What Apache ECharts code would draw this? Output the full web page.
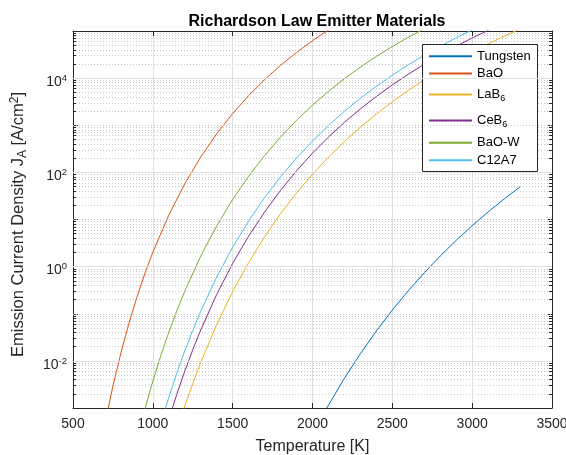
<!DOCTYPE html>
<html>
<head>
<meta charset="utf-8">
<script src="https://cdn.jsdelivr.net/npm/echarts@6/dist/echarts.min.js"></script>
<style>
  html, body { margin: 0; padding: 0; background: #fff; }
  #chart { width: 566px; height: 455px; }
</style>
</head>
<body>
<div id="chart"></div>
<script>
// values (temperature in K, current density in A/cm^2)
const tungstenT = [2000, 2100, 2200, 2300, 2400, 2500, 2600, 2700, 2800, 2900, 3000, 3100, 3200, 3300]
const tungstenJ = [2.72e-4, 1.15e-3, 4.27e-3, 1.42e-2, 4.30e-2, 0.1195, 0.308, 0.741, 1.68, 3.61, 7.39, 14.5, 27.2, 49.4]

const baoT = [700, 750, 800, 850, 900, 950, 1000, 1100, 1200, 1300, 1400, 1500, 1600, 1700, 1800, 1900, 2000, 2100, 2200]
const baoJ = [4.61e-4, 2.91e-3, 1.47e-2, 6.20e-2, 0.224, 0.710, 2.02, 12.4, 57.4, 212, 659, 1774, 4254, 9275, 18660, 35100, 62280, 105100, 170000]

const lab6T = [1100, 1150, 1200, 1250, 1300, 1400, 1500, 1600, 1700, 1800, 1900, 2000, 2100, 2200, 2300, 2400, 2500, 2600, 2700, 2800, 2900, 3000, 3100, 3200, 3300]
const lab6J = [8.76e-5, 3.25e-4, 1.09e-3, 3.31e-3, 9.28e-3, 5.90e-2, 0.295, 1.22, 4.30, 13.3, 36.5, 91.3, 210, 451, 909, 1734, 3151, 5488, 9196, 14890, 23390, 35710, 53200, 77450, 110400]

const ceb6T = [1050, 1100, 1150, 1200, 1250, 1300, 1400, 1500, 1600, 1700, 1800, 1900, 2000, 2100, 2200, 2300, 2400, 2500, 2600, 2700, 2800, 2900, 3000, 3100, 3200]
const ceb6J = [1.49e-4, 5.70e-4, 1.95e-3, 6.05e-3, 1.72e-2, 4.53e-2, 0.257, 1.17, 4.42, 14.4, 41.6, 108, 256, 561, 1151, 2226, 4090, 7184, 12120, 19720, 31080, 47590, 71000, 103400, 147400]

const baowT = [900, 950, 1000, 1050, 1100, 1150, 1200, 1300, 1400, 1500, 1600, 1700, 1800, 1900, 2000, 2100, 2200, 2300, 2400, 2500, 2600, 2700, 2800]
const baowJ = [2.04e-4, 9.37e-4, 3.71e-3, 1.29e-2, 4.05e-2, 0.115, 0.301, 1.67, 7.32, 26.6, 82.9, 228, 564, 1274, 2669, 5235, 9700, 17110, 28870, 46900, 73600, 112000, 166000]

const c12a7T = [1000, 1050, 1100, 1150, 1200, 1250, 1300, 1400, 1500, 1600, 1700, 1800, 1900, 2000, 2100, 2200, 2300, 2400, 2500, 2600, 2700, 2800, 2900, 3000, 3100]
const c12a7J = [1.12e-4, 4.62e-4, 1.68e-3, 5.49e-3, 1.63e-2, 4.46e-2, 0.113, 0.601, 2.58, 9.30, 29.1, 80.6, 202, 464, 989, 1976, 3735, 6716, 11560, 19150, 30640, 47540, 71730, 105500, 151800]

const seriesNames = ['Tungsten', 'BaO', 'LaB6', 'CeB6', 'BaO-W', 'C12A7']
const seriesColors = ['#0072BD', '#D95319', '#EDB120', '#7E2F8E', '#77AC30', '#4DBEEE']

// y tick labels (exponents) and grid values
const yLabelExps = [-2, 0, 2, 4]
const yMajorGrid = [1e-2, 1, 1e2, 1e4]
const yOddDecades = [1e-1, 1e1, 1e3]

// legend rows (centre of each entry, px from top) - MATLAB spaces them unevenly
const legendRowY = [56.7, 74, 95, 121, 143.3, 160.7]

const font = '"Liberation Sans", Arial, Helvetica, sans-serif'
const ink = '#262626'

const chart = echarts.init(document.getElementById('chart'))

const pairs = (t, j) => t.map((v, i) => [v, j[i]])
const allData = [
  pairs(tungstenT, tungstenJ),
  pairs(baoT, baoJ),
  pairs(lab6T, lab6J),
  pairs(ceb6T, ceb6J),
  pairs(baowT, baowJ),
  pairs(c12a7T, c12a7J)
]

// subscript 6 in the boride names
const legendLabel = name => {
  if (name === 'LaB6') return 'LaB{sub|6}'
  if (name === 'CeB6') return 'CeB{sub|6}'
  return name
}

const gridSeries = {
  name: '',
  type: 'line',
  data: [],
  z: 1,
  markLine: {
    silent: true,
    symbol: 'none',
    animation: false,
    label: { show: false },
    data: [
      ...yMajorGrid.map(v => ({ yAxis: v, lineStyle: { color: '#dfdfdf', type: 'solid', width: 1 } })),
      ...yOddDecades.map(v => ({ yAxis: v, lineStyle: { color: '#c8c8c8', type: [1, 2], width: 1 } }))
    ]
  }
}

const legends = seriesNames.map((name, i) => ({
  data: [name],
  left: 428,
  top: legendRowY[i] - 7,
  padding: 0,
  itemWidth: 43,
  itemHeight: 14,
  itemStyle: { opacity: 0 },
  formatter: legendLabel,
  textStyle: {
    fontSize: 13,
    color: '#000',
    fontFamily: font,
    rich: {
      sub: { fontSize: 9, padding: [9, 0, 0, 0], fontFamily: font, color: '#000' }
    }
  }
}))

const option = {
  animation: false,
  textStyle: { fontFamily: font },
  title: {
    text: 'Richardson Law Emitter Materials',
    left: 312,
    top: 9,
    textAlign: 'center',
    textStyle: { fontSize: 16, fontWeight: 'bold', color: '#000', fontFamily: font }
  },
  grid: { left: 73, right: 14, top: 31, bottom: 47, outerBoundsMode: 'none' },
  legend: legends,
  graphic: [{
    type: 'rect',
    z: 3,
    shape: { x: 422.5, y: 44.5, width: 115, height: 127 },
    style: { fill: '#fff', stroke: ink, lineWidth: 1 }
  }],
  xAxis: [{
    type: 'value',
    min: 500,
    max: 3500,
    interval: 500,
    name: 'Temperature [K]',
    nameLocation: 'middle',
    nameGap: 31,
    nameTextStyle: { fontSize: 16, color: ink, fontFamily: font },
    axisLine: { show: true, onZero: false, lineStyle: { color: ink, width: 1 } },
    axisTick: { show: true, inside: true, length: 5, lineStyle: { color: ink } },
    axisLabel: { fontSize: 14, color: ink, margin: 9, fontFamily: font, formatter: v => String(v) },
    splitLine: { show: true, lineStyle: { color: '#dfdfdf', width: 1 } }
  }, {
    type: 'value',
    position: 'top',
    min: 500,
    max: 3500,
    interval: 500,
    axisLine: { show: true, onZero: false, lineStyle: { color: ink, width: 1 } },
    axisTick: { show: true, inside: true, length: 5, lineStyle: { color: ink } },
    axisLabel: { show: false },
    splitLine: { show: false }
  }],
  yAxis: [{
    type: 'log',
    logBase: 10,
    min: 1e-3,
    max: 1e5,
    splitNumber: 8,
    name: 'Emission Current Density J{sub|A} [A/cm{sup|2}]',
    nameLocation: 'middle',
    nameGap: 44,
    nameTextStyle: {
      fontSize: 16.5,
      color: ink,
      fontFamily: font,
      padding: [0, 10, 0, 0],
      rich: {
        sub: { fontSize: 12, padding: [9, 0, 0, 0], color: ink, fontFamily: font },
        sup: { fontSize: 12, padding: [0, 0, 8, 0], color: ink, fontFamily: font }
      }
    },
    axisLine: { show: true, onZero: false, lineStyle: { color: ink, width: 1 } },
    axisTick: { show: true, inside: true, length: 5, lineStyle: { color: ink } },
    minorTick: { show: true, splitNumber: 9, length: 3, lineStyle: { color: ink } },
    axisLabel: {
      fontSize: 14,
      color: ink,
      margin: 6,
      padding: [8, 0, 0, 0],
      fontFamily: font,
      formatter: v => {
        const e = Math.round(Math.log10(v))
        return yLabelExps.includes(e) ? '10{sup|' + e + '}' : ''
      },
      rich: {
        sup: { fontSize: 9.5, padding: [0, 0, 8, 0], color: ink, fontFamily: font }
      }
    },
    splitLine: { show: false },
    minorSplitLine: { show: true, lineStyle: { color: '#c8c8c8', type: [1, 2], width: 1 } }
  }, {
    type: 'log',
    logBase: 10,
    min: 1e-3,
    max: 1e5,
    splitNumber: 8,
    position: 'right',
    axisLine: { show: true, onZero: false, lineStyle: { color: ink, width: 1 } },
    axisTick: { show: true, inside: true, length: 5, lineStyle: { color: ink } },
    minorTick: { show: true, splitNumber: 9, length: 3, lineStyle: { color: ink } },
    axisLabel: { show: false },
    splitLine: { show: false }
  }],
  series: [gridSeries].concat(seriesNames.map((name, i) => ({
    name,
    type: 'line',
    data: allData[i],
    xAxisIndex: 0,
    yAxisIndex: 0,
    showSymbol: false,
    symbol: 'none',
    z: 2,
    color: seriesColors[i],
    lineStyle: { color: seriesColors[i], width: 1 }
  })))
}

chart.setOption(option)
</script>
</body>
</html>
